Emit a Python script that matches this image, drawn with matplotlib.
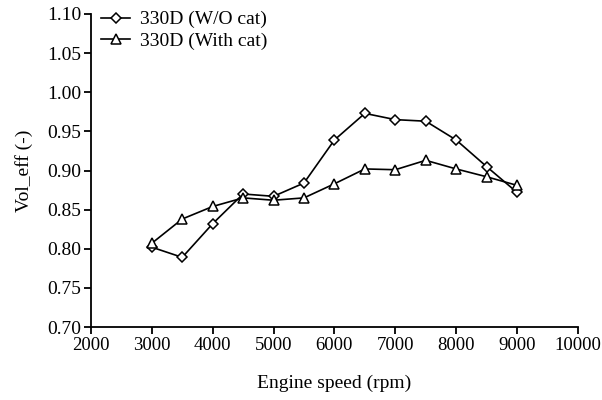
import matplotlib
matplotlib.use("Agg")
import matplotlib.pyplot as plt

plt.rcParams.update({
    "font.family": "Liberation Serif", "font.size": 14,
})

# ---- Data ----
speed = [3000, 3500, 4000, 4500, 5000, 5500, 6000, 6500, 7000, 7500, 8000, 8500, 9000]
vol_eff_wo_cat = [0.802, 0.789, 0.832, 0.870, 0.867, 0.884, 0.939, 0.973,
                  0.965, 0.963, 0.939, 0.905, 0.872]
vol_eff_with_cat = [0.807, 0.838, 0.854, 0.865, 0.862, 0.865, 0.883, 0.902,
                    0.901, 0.913, 0.902, 0.892, 0.881]
labels = ["330D (W/O cat)", "330D (With cat)"]
yticks = [0.70, 0.75, 0.80, 0.85, 0.90, 0.95, 1.00, 1.05, 1.10]

fig = plt.figure(figsize=(6.02, 4.0), dpi=100)
ax = fig.add_axes([0.151, 0.1825, 0.809, 0.7825])

ax.plot(speed, vol_eff_wo_cat, color="black", lw=1.2, marker="D", ms=5,
        mfc="white", mec="black", mew=1.1, label=labels[0])
ax.plot(speed, vol_eff_with_cat, color="black", lw=1.2, marker="^", ms=7,
        mfc="white", mec="black", mew=1.1, label=labels[1])

ax.set_xlim(2000, 10000)
ax.set_ylim(0.70, 1.10)
ax.set_xticks(range(2000, 10001, 1000))
ax.set_yticks(yticks)
ax.set_yticklabels([f"{v:.2f}" for v in yticks])

for side in ("top", "right"):
    ax.spines[side].set_visible(False)
for side in ("left", "bottom"):
    ax.spines[side].set_linewidth(1.3)
ax.tick_params(direction="out", length=5, width=1.3, pad=2)
ax.tick_params(axis="x", labelsize=13.5)

ax.set_xlabel("Engine speed (rpm)", labelpad=15)
ax.set_ylabel("Vol_eff (-)", labelpad=10)

ax.legend(loc="upper left", bbox_to_anchor=(0.005, 1.035), frameon=False,
          handlelength=1.5, handletextpad=0.5, labelspacing=0.2, borderaxespad=0)

fig.savefig("out.png", dpi=100)
